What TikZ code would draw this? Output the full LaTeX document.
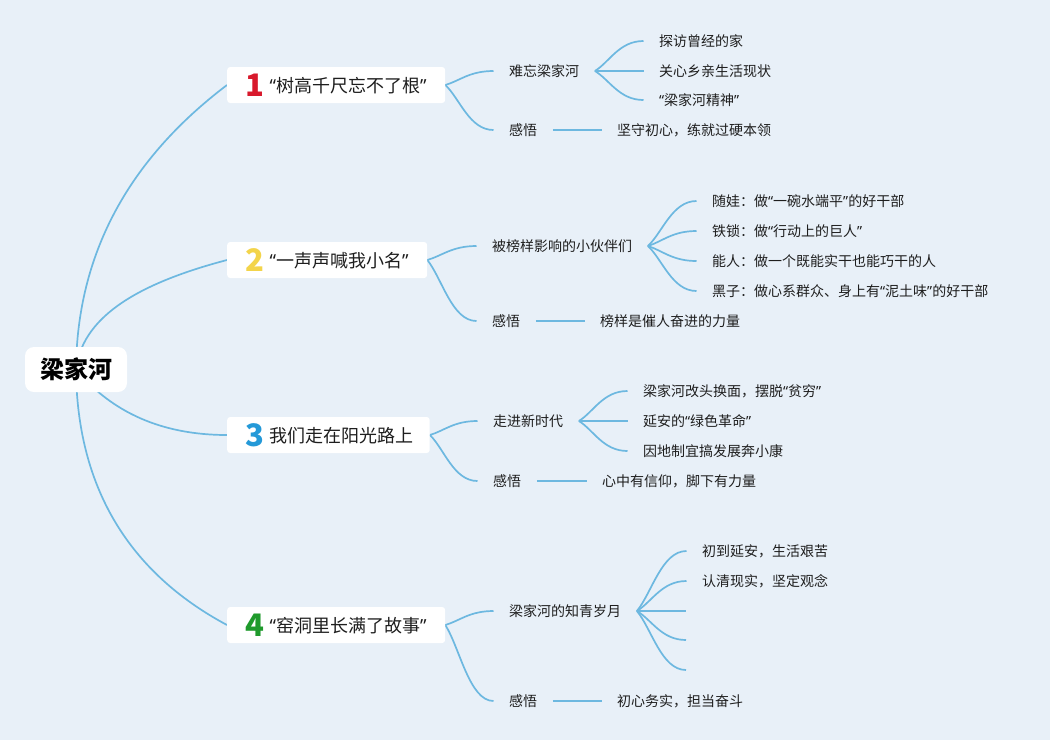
\documentclass[tikz,border=0pt]{standalone}
\usepackage{fontspec}
\setmainfont{Noto Sans CJK SC}
\newfontfamily\qf{Noto Sans}
\usetikzlibrary{calc,backgrounds}
\definecolor{bgc}{HTML}{E8F0F8}
\definecolor{lnc}{HTML}{6DB8E0}
\definecolor{txc}{HTML}{1E1E1E}
\definecolor{nred}{HTML}{D8192C}
\definecolor{nyel}{HTML}{F3D44A}
\definecolor{nblu}{HTML}{2499D8}
\definecolor{ngrn}{HTML}{1F9A2C}
\newcommand\lqm{{\qf “}}
\newcommand\rqm{{\qf ”}}
\newcommand\numlab[2]{\hspace*{19pt}\makebox[17pt]{\raisebox{-3.5pt}{\fontsize{31pt}{31pt}\selectfont\bfseries\color{#1}#2}}\hspace*{6.5pt}}
\tikzset{
  conn/.style={draw=lnc, line width=1.7pt},
  rootbox/.style={fill=white, rounded corners=9pt, minimum width=102pt, minimum height=45pt, inner sep=0pt, font=\fontsize{24pt}{26pt}\selectfont\bfseries, text=black},
  topbox/.style={fill=white, rounded corners=3pt, inner xsep=0pt, inner ysep=0pt, minimum height=36pt, anchor=west, font=\fontsize{18pt}{20pt}\selectfont, text=txc},
  item/.style={inner xsep=15.5pt, inner ysep=0pt, anchor=west, font=\fontsize{14pt}{16pt}\selectfont, text=txc, text height=11.6pt, text depth=1pt},
  sbranch/.style={to path={let \p1=(\tikztostart), \p2=(\tikztotarget) in .. controls ($(\p1)!0.3!(\p2)$) and ({0.5*\x1+0.5*\x2},\y2) .. (\p2)}},
}
\begin{document}
\begin{tikzpicture}[x=1pt,y=-1pt]
\useasboundingbox (0,0) rectangle (1050,740);
% root
\node[rootbox] (root) at (76,369.5) {梁家河};
% main boxes
\node[topbox] (b1) at (227,85) {\numlab{nred}{1}\lqm 树高千尺忘不了根\rqm\hspace*{18.5pt}};
\node[topbox] (b2) at (227,260) {\numlab{nyel}{2}\lqm 一声声喊我小名\rqm\hspace*{18.5pt}};
\node[topbox] (b3) at (227,435) {\numlab{nblu}{3}我们走在阳光路上\hspace*{16pt}};
\node[topbox] (b4) at (227,625) {\numlab{ngrn}{4}\lqm 窑洞里长满了故事\rqm\hspace*{18.5pt}};
% branch 1
\node[item] (s11) at (493.5,71) {难忘梁家河};
\node[item] (s12) at (493.5,130) {感悟};
\node[item] (l111) at (643.5,41) {探访曾经的家};
\node[item] (l112) at (643.5,71) {关心乡亲生活现状};
\node[item] (l113) at (643.5,100) {\lqm 梁家河精神\rqm};
\node[item] (l121) at (601.5,130) {坚守初心，练就过硬本领};
% branch 2
\node[item] (s21) at (476.5,246) {被榜样影响的小伙伴们};
\node[item] (s22) at (476.5,321) {感悟};
\node[item] (l211) at (696.5,201) {随娃：做\lqm 一碗水端平\rqm 的好干部};
\node[item] (l212) at (696.5,231) {铁锁：做\lqm 行动上的巨人\rqm};
\node[item] (l213) at (696.5,261) {能人：做一个既能实干也能巧干的人};
\node[item] (l214) at (696.5,291) {黑子：做心系群众、身上有\lqm 泥土味\rqm 的好干部};
\node[item] (l221) at (584.5,321) {榜样是催人奋进的力量};
% branch 3
\node[item] (s31) at (477.5,421) {走进新时代};
\node[item] (s32) at (477.5,481) {感悟};
\node[item] (l311) at (627.5,391) {梁家河改头换面，摆脱\lqm 贫穷\rqm};
\node[item] (l312) at (627.5,421) {延安的\lqm 绿色革命\rqm};
\node[item] (l313) at (627.5,451) {因地制宜搞发展奔小康};
\node[item] (l321) at (586.5,481) {心中有信仰，脚下有力量};
% branch 4
\node[item] (s41) at (493.5,611) {梁家河的知青岁月};
\node[item] (s42) at (493.5,701) {感悟};
\node[item] (l411) at (686.5,551) {初到延安，生活艰苦};
\node[item] (l412) at (686.5,581) {认清现实，坚定观念};
\coordinate (e413) at (686,611);
\coordinate (e414) at (686,640);
\coordinate (e415) at (686,670);
\node[item] (l421) at (601.5,701) {初心务实，担当奋斗};
\begin{pgfonlayer}{background}
\fill[bgc] (0,0) rectangle (1050,740);
% root connectors
\draw[conn] (root.center) .. controls +(1,-115) and +(-99,75) .. (b1.west);
\draw[conn] (root.center) .. controls +(6,-50) and +(-95,25) .. (b2.west);
\draw[conn] (root.center) .. controls +(36,43) and +(-65,0) .. (b3.west);
\draw[conn] (root.center) .. controls +(1,117) and +(-99,-53) .. (b4.west);
% branch 1
\draw[conn] (b1.east) to[sbranch] (s11.west);
\draw[conn] (b1.east) to[sbranch] (s12.west);
\draw[conn] (s11.east) to[sbranch] (l111.west);
\draw[conn] (s11.east) to[sbranch] (l112.west);
\draw[conn] (s11.east) to[sbranch] (l113.west);
\draw[conn] (s12.east) -- (l121.west);
% branch 2
\draw[conn] (b2.east) to[sbranch] (s21.west);
\draw[conn] (b2.east) to[sbranch] (s22.west);
\draw[conn] (s21.east) to[sbranch] (l211.west);
\draw[conn] (s21.east) to[sbranch] (l212.west);
\draw[conn] (s21.east) to[sbranch] (l213.west);
\draw[conn] (s21.east) to[sbranch] (l214.west);
\draw[conn] (s22.east) -- (l221.west);
% branch 3
\draw[conn] (b3.east) to[sbranch] (s31.west);
\draw[conn] (b3.east) to[sbranch] (s32.west);
\draw[conn] (s31.east) to[sbranch] (l311.west);
\draw[conn] (s31.east) to[sbranch] (l312.west);
\draw[conn] (s31.east) to[sbranch] (l313.west);
\draw[conn] (s32.east) -- (l321.west);
% branch 4
\draw[conn] (b4.east) to[sbranch] (s41.west);
\draw[conn] (b4.east) to[sbranch] (s42.west);
\draw[conn] (s41.east) to[sbranch] (l411.west);
\draw[conn] (s41.east) to[sbranch] (l412.west);
\draw[conn] (s41.east) to[sbranch] (e413);
\draw[conn] (s41.east) to[sbranch] (e414);
\draw[conn] (s41.east) to[sbranch] (e415);
\draw[conn] (s42.east) -- (l421.west);
\end{pgfonlayer}
\end{tikzpicture}
\end{document}
